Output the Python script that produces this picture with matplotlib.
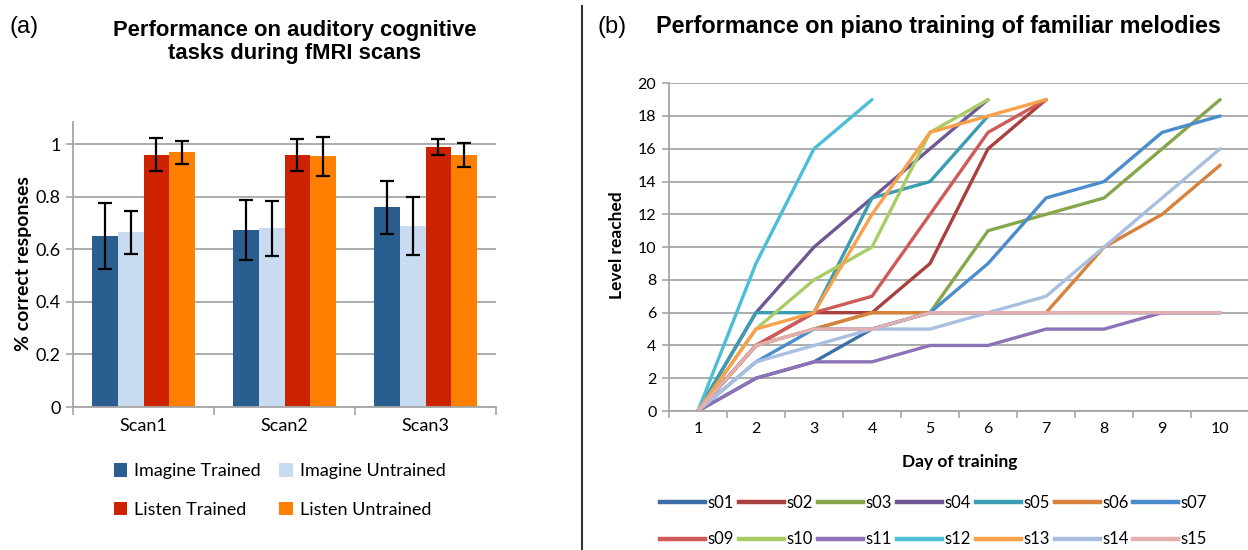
import numpy as np
import matplotlib
matplotlib.use("Agg")
import matplotlib.pyplot as plt
from matplotlib.lines import Line2D
from matplotlib.patches import Patch

# ---- data: panel (a)
scans = ["Scan1", "Scan2", "Scan3"]
bar_labels = ["Imagine Trained", "Imagine Untrained", "Listen Trained", "Listen Untrained"]
imagine_trained = [0.65, 0.675, 0.76]
imagine_untrained = [0.665, 0.68, 0.69]
listen_trained = [0.96, 0.96, 0.99]
listen_untrained = [0.97, 0.955, 0.96]
err_imagine_trained = [0.125, 0.115, 0.10]
err_imagine_untrained = [0.083, 0.105, 0.11]
err_listen_trained = [0.063, 0.06, 0.03]
err_listen_untrained = [0.043, 0.075, 0.045]

# ---- data: panel (b), level reached per day (list stops once a subject finished)
days = list(range(1, 11))
subjects = ["s01", "s02", "s03", "s04", "s05", "s06", "s07",
            "s09", "s10", "s11", "s12", "s13", "s14", "s15"]
levels = {
    "s01": [0, 2, 3, 5, 6, 6, 6, 6, 6, 6],
    "s02": [0, 4, 6, 6, 9, 16, 19],
    "s03": [0, 4, 5, 6, 6, 11, 12, 13, 16, 19],
    "s04": [0, 6, 10, 13, 16, 19],
    "s05": [0, 6, 6, 13, 14, 18],
    "s06": [0, 4, 5, 6, 6, 6, 6, 10, 12, 15],
    "s07": [0, 3, 5, 5, 6, 9, 13, 14, 17, 18],
    "s09": [0, 4, 6, 7, 12, 17, 19],
    "s10": [0, 5, 8, 10, 17, 19],
    "s11": [0, 2, 3, 3, 4, 4, 5, 5, 6, 6],
    "s12": [0, 9, 16, 19],
    "s13": [0, 5, 6, 12, 17, 18, 19],
    "s14": [0, 3, 4, 5, 5, 6, 7, 10, 13, 16],
    "s15": [0, 4, 5, 5, 6, 6, 6, 6, 6, 6],
}
line_colors = {
    "s01": "#3d6fa6", "s02": "#a8413e", "s03": "#87a64c", "s04": "#6e5792",
    "s05": "#3a9db3", "s06": "#d9813a", "s07": "#4a8ccc", "s09": "#cf5a57",
    "s10": "#a9cc66", "s11": "#8e72b8", "s12": "#4bbfd6", "s13": "#f9a04a",
    "s14": "#a8bfe0", "s15": "#e2b0b1",
}

bar_colors = ["#2b5e90", "#c9dbf0", "#cc2200", "#ff7f00"]
grid_col = "#a6a6a6"
body_font = ["Lato", "DejaVu Sans"]
head_font = ["Liberation Sans", "DejaVu Sans"]


def row_major(items, ncol):
    # matplotlib fills legend columns first; reorder so rows read left to right
    nrow = int(np.ceil(len(items) / ncol))
    return [items[r * ncol + c] for c in range(ncol) for r in range(nrow) if r * ncol + c < len(items)]


fig = plt.figure(figsize=(12.48, 5.5), dpi=100)

# ---------------- panel (a)
ax1 = fig.add_axes([0.0585, 0.26, 0.339, 0.518])
x = np.arange(len(scans))
w = 0.182
series = [imagine_trained, imagine_untrained, listen_trained, listen_untrained]
errs = [err_imagine_trained, err_imagine_untrained, err_listen_trained, err_listen_untrained]
for i, (vals, e) in enumerate(zip(series, errs)):
    ax1.bar(x + (i - 1.5) * w, vals, w, color=bar_colors[i], zorder=2,
            yerr=e, error_kw=dict(ecolor="black", elinewidth=1.6, capsize=5, capthick=1.6, zorder=3))
ax1.set_xlim(-0.5, 2.5)
ax1.set_ylim(0, 1.085)
ax1.set_yticks([0, 0.2, 0.4, 0.6, 0.8, 1])
ax1.set_yticklabels(["0", "0.2", "0.4", "0.6", "0.8", "1"], family=body_font, fontsize=13)
ax1.set_xticks(x)
ax1.set_xticklabels(scans, family=body_font, fontsize=13)
ax1.tick_params(axis="x", length=0, pad=8)
ax1.set_xticks([-0.5, 0.5, 1.5, 2.5], minor=True)
ax1.tick_params(axis="x", which="minor", length=6, color=grid_col, width=1.2)
ax1.tick_params(axis="y", length=5, color=grid_col, width=1.2, pad=4)
ax1.yaxis.grid(True, color=grid_col, linewidth=1.3, zorder=0)
ax1.set_axisbelow(True)
for s in ["top", "right"]:
    ax1.spines[s].set_visible(False)
for s in ["left", "bottom"]:
    ax1.spines[s].set_color(grid_col)
    ax1.spines[s].set_linewidth(1.3)

fig.text(0.019, 0.52, "% correct responses", rotation=90, ha="center", va="center",
         family=body_font, fontsize=14, fontweight="bold")
fig.text(0.008, 0.951, "(a)", ha="left", va="center", family=head_font, fontsize=17)
fig.text(0.236, 0.924, "Performance on auditory cognitive\ntasks during fMRI scans",
         ha="center", va="center", family=head_font, fontsize=15.8, fontweight="bold",
         linespacing=1.15)

handles_a = [Patch(facecolor=c, edgecolor="none") for c in bar_colors]
fig.legend(row_major(handles_a, 2), row_major(bar_labels, 2), loc="upper left",
           bbox_to_anchor=(0.078, 0.187), ncol=2, frameon=False,
           prop=dict(family=body_font, size=13), handlelength=0.75, handleheight=0.75,
           handletextpad=0.4, columnspacing=1.0, labelspacing=1.25)

# ---------------- panel (b)
ax2 = fig.add_axes([0.536, 0.2527, 0.464, 0.596])
for name in subjects:
    vals = levels[name]
    ax2.plot(days[:len(vals)], vals, color=line_colors[name], linewidth=2.4,
             solid_capstyle="round", solid_joinstyle="round", label=name, zorder=2)
ax2.set_xlim(0.5, 10.48)
ax2.set_ylim(0, 20)
ax2.set_yticks(range(0, 21, 2))
ax2.set_xticks(days)
ax2.tick_params(axis="both", labelsize=11.5)
for lab in ax2.get_xticklabels() + ax2.get_yticklabels():
    lab.set_family(body_font)
ax2.tick_params(axis="x", length=0, pad=8)
ax2.set_xticks(np.arange(0.5, 10.5, 1), minor=True)
ax2.tick_params(axis="x", which="minor", length=5, color=grid_col, width=1.2)
ax2.tick_params(axis="y", length=5, color=grid_col, width=1.2, pad=4)
ax2.yaxis.grid(True, color=grid_col, linewidth=1.3, zorder=0)
ax2.set_axisbelow(True)
for s in ["top", "right"]:
    ax2.spines[s].set_visible(False)
for s in ["left", "bottom"]:
    ax2.spines[s].set_color(grid_col)
    ax2.spines[s].set_linewidth(1.3)

fig.text(0.494, 0.555, "Level reached", rotation=90, ha="center", va="center",
         family=body_font, fontsize=12.5, fontweight="bold")
fig.text(0.769, 0.16, "Day of training", ha="center", va="center",
         family=body_font, fontsize=12.5, fontweight="bold")
fig.text(0.479, 0.951, "(b)", ha="left", va="center", family=head_font, fontsize=17)
fig.text(0.752, 0.951, "Performance on piano training of familiar melodies",
         ha="center", va="center", family=head_font, fontsize=16.8, fontweight="bold")

handles_b = [Line2D([0], [0], color=line_colors[n], linewidth=3.2) for n in subjects]
fig.legend(row_major(handles_b, 7), row_major(subjects, 7), loc="upper left",
           bbox_to_anchor=(0.517, 0.128), ncol=7, frameon=False,
           prop=dict(family=body_font, size=12), handlelength=2.7,
           handletextpad=0.15, columnspacing=0.3, labelspacing=1.25)

# divider between the panels
fig.add_artist(Line2D([0.4665, 0.4665], [0.0, 0.99], color="#333333", linewidth=1.5))

fig.savefig("out.png", dpi=100)
